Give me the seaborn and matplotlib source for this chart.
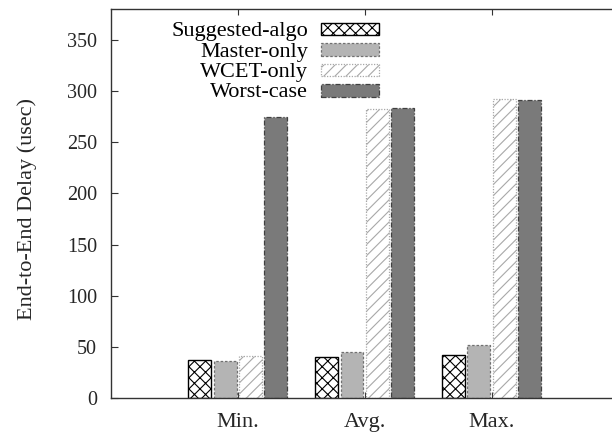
import matplotlib
matplotlib.use("Agg")
import matplotlib.pyplot as plt
import seaborn as sns
import pandas as pd

categories = ["Min.", "Avg.", "Max."]
series = ["Suggested-algo", "Master-only", "WCET-only", "Worst-case"]
suggested = [37, 40, 42]
master = [36.5, 44.5, 52]
wcet = [41, 283, 292]
worst = [275, 283.5, 291]

values = {"Suggested-algo": suggested, "Master-only": master,
          "WCET-only": wcet, "Worst-case": worst}
rows = []
for s in series:
    for c, v in zip(categories, values[s]):
        rows.append({"cat": c, "series": s, "val": v})
df = pd.DataFrame(rows)

sns.set_theme(style="white")
plt.rcParams["font.family"] = ["Liberation Serif", "DejaVu Serif"]
plt.rcParams["hatch.linewidth"] = 0.8

W, H = 612, 434
fig = plt.figure(figsize=(W / 100, H / 100), dpi=100)
ax = fig.add_axes([111 / W, 1 - 398 / H, 1 - 111 / W, (398 - 9.3) / H])

sns.barplot(data=df, x="cat", y="val", hue="series", order=categories,
            hue_order=series, width=0.8, gap=0.1, legend=False, ax=ax,
            err_kws={"linewidth": 0})

styles = [
    dict(fc="white", ec="black", hatch="xxx", ls="-", lw=1.0),
    dict(fc="#b4b4b4", ec="#707070", hatch=None, ls=(0, (2, 1.5)), lw=0.9),
    dict(fc="white", ec="#a8a8a8", hatch="///", ls=(0, (1, 1.2)), lw=0.9),
    dict(fc="#7a7a7a", ec="#404040", hatch=None, ls=(0, (4, 1.5, 1, 1.5)), lw=0.9),
]
for cont, st in zip(ax.containers, styles):
    for p in cont.patches:
        p.set_facecolor(st["fc"])
        p.set_edgecolor(st["ec"])
        p.set_linestyle(st["ls"])
        p.set_linewidth(st["lw"])
        if st["hatch"]:
            p.set_hatch(st["hatch"])

ax.set_xlim(-1, 2.95)
ax.set_ylim(0, 380)
ax.set_yticks([0, 50, 100, 150, 200, 250, 300, 350])
ax.set_xlabel("")
ax.set_ylabel("End-to-End Delay (usec)", fontsize=16)
ax.yaxis.set_label_coords(-0.148, 0.485)

for side in ["left", "bottom", "top"]:
    ax.spines[side].set_color("#333333")
    ax.spines[side].set_linewidth(1.0)
ax.spines["right"].set_visible(False)

ax.tick_params(axis="y", direction="in", length=5, width=0.8, color="#333333",
               labelsize=14.5, pad=10, left=True, right=False)
ax.tick_params(axis="x", direction="in", length=4, width=0.8, color="#333333",
               labelsize=16, pad=10.5, bottom=True, top=True)

handles = [c.patches[0] for c in ax.containers]
leg = ax.legend(handles, series, loc="upper right",
                bbox_to_anchor=(379 / W, 1 - 23 / H),
                bbox_transform=fig.transFigure, frameon=False,
                markerfirst=False, fontsize=16, handlelength=2.6,
                handleheight=0.48, handletextpad=0.6, labelspacing=0.06,
                borderpad=0, borderaxespad=0)

# right-align the legend labels next to their sample boxes
fig.canvas.draw()
renderer = fig.canvas.get_renderer()
for t, patch in zip(leg.get_texts(), leg.get_patches()):
    bb = patch.get_window_extent(renderer)
    t.set_visible(False)
    fig.text((bb.x0 - 13) / W, (bb.y0 + bb.y1) / 2 / H, t.get_text(),
             ha="right", va="center_baseline", fontsize=16, color="black")

fig.savefig("out.png", dpi=100)
